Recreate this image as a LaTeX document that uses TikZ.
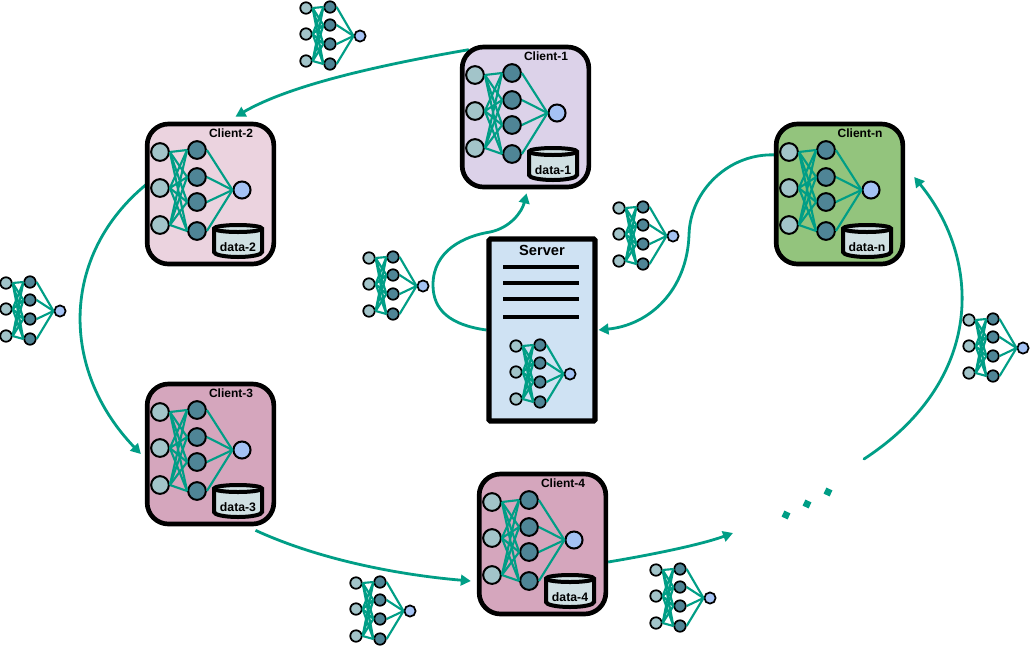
\documentclass[tikz,border=0pt]{standalone}
\usepackage{fontspec}
\setmainfont{Liberation Sans}
\usetikzlibrary{arrows.meta,calc}
\pgfdeclarelayer{background}
\pgfsetlayers{background,main}
\definecolor{flow}{HTML}{009E86}
\definecolor{inN}{HTML}{A2C4C9}
\definecolor{hidN}{HTML}{4F8596}
\definecolor{outN}{HTML}{A4C2F4}
\definecolor{drumfill}{HTML}{D0E0E3}
\definecolor{srvfill}{HTML}{CFE2F3}
\definecolor{cardA}{HTML}{DCD2E9}
\definecolor{cardB}{HTML}{EBD3DF}
\definecolor{cardC}{HTML}{D5A6BD}
\definecolor{cardN}{HTML}{93C47D}
\tikzset{
  every node/.style={font=\bfseries},
  cbox/.style={draw=black,line width=3.5pt,rounded corners=16pt,minimum width=95pt,minimum height=105pt,inner sep=0pt},
  srvbox/.style={draw=black,line width=3.8pt,fill=srvfill,minimum width=79.5pt,minimum height=136.5pt,inner sep=0pt,rounded corners=1pt},
  neuron/.style={circle,draw=black,inner sep=0pt},
  bigI/.style={neuron,fill=inN,line width=1.5pt,minimum size=13.3pt},
  bigH/.style={neuron,fill=hidN,line width=1.5pt,minimum size=13.3pt},
  bigO/.style={neuron,fill=outN,line width=1.5pt,minimum size=12.8pt},
  smallI/.style={neuron,fill=inN,line width=1.3pt,minimum size=8.6pt},
  smallH/.style={neuron,fill=hidN,line width=1.3pt,minimum size=8.6pt},
  smallO/.style={neuron,fill=outN,line width=1.3pt,minimum size=8.4pt},
  netedge/.style={draw=flow,line width=1.6pt},
  flowarrow/.style={draw=flow,line width=2.1pt,-{Triangle[length=7.5pt,width=8pt]}},
  cname/.style={font=\bfseries\fontsize{9}{11}\selectfont,inner sep=0pt},
  dname/.style={font=\bfseries\fontsize{9.2}{11}\selectfont,inner sep=0pt},
  drum/.style={draw=black,line width=3pt,fill=drumfill},
  rack/.style={draw=black,line width=3.4pt},
  dotmark/.style={fill=flow,rotate=-25,minimum size=5pt,inner sep=0pt},
}
% all twelve input-hidden links and the four hidden-output links of one network
\newcommand{\wirenet}[1]{%
  \foreach \a in {1,2,3}{\foreach \b in {1,2,3,4}{\path[netedge] (#1i\a.east) -- (#1h\b.west);}}
  \foreach \b in {1,2,3,4}{\path[netedge] (#1h\b.east) -- (#1o.west);}
}
% small network placed by the centre of its output neuron
\newcommand{\smallnet}[3]{%
  \begin{scope}[shift={(#2,#3)}]
    \node[smallI] (#1i1) at (-54,-28) {};
    \node[smallI] (#1i2) at (-54,-2) {};
    \node[smallI] (#1i3) at (-54,25) {};
    \node[smallH] (#1h1) at (-30,-29) {};
    \node[smallH] (#1h2) at (-30,-11) {};
    \node[smallH] (#1h3) at (-30,8) {};
    \node[smallH] (#1h4) at (-30,28) {};
    \node[smallO] (#1o) at (0,0) {};
    \wirenet{#1}
  \end{scope}%
}
% client card with its network and data store, offset from the first card's place
\newcommand{\client}[6]{%
  \begin{scope}[shift={(#2,#3)}]
    \node[cbox,fill=#6] (#1) at (525.5,117) {};
    \node[cname] (#1name) at (546,56) {#4};
    \node[bigI] (#1i1) at (475,75) {};
    \node[bigI] (#1i2) at (475,111) {};
    \node[bigI] (#1i3) at (475,148) {};
    \node[bigH] (#1h1) at (512,73) {};
    \node[bigH] (#1h2) at (512,100) {};
    \node[bigH] (#1h3) at (512,125) {};
    \node[bigH] (#1h4) at (512,154) {};
    \node[bigO] (#1o) at (557,113) {};
    \wirenet{#1}
    \path[drum] (529,151.5) arc[start angle=180,end angle=360,x radius=24,y radius=3.5]
      -- (577,175) arc[start angle=0,end angle=-180,x radius=24,y radius=-5] -- cycle;
    \path[draw=black,line width=3pt] (529,151.5) arc[start angle=180,end angle=0,x radius=24,y radius=3.5];
    \node[dname] (#1data) at (553,170) {#5};
  \end{scope}%
}
\begin{document}
\begin{tikzpicture}[x=0.75pt,y=-0.75pt]
\path[use as bounding box] (0,0) rectangle (1030,647);
\begin{pgfonlayer}{background}
\fill[white] (0,0) rectangle (1030,647);
\end{pgfonlayer}

\client{ca}{0}{0}{Client-1}{data-1}{cardA}
\client{cb}{-315}{77}{Client-2}{data-2}{cardB}
\client{cc}{-315}{337}{Client-3}{data-3}{cardC}
\client{cd}{17}{427}{Client-4}{data-4}{cardC}
\client{cn}{314}{77}{Client-n}{data-n}{cardN}

% server
\node[srvbox] (srv) at (542,330) {};
\node[font=\bfseries\fontsize{11}{13}\selectfont,inner sep=0pt] (srvname) at (542,250) {Server};
\foreach \yy in {-63,-47,-31,-13}{\path[rack] ([shift={(-39,\yy)}]srv.center) -- ([shift={(37,\yy)}]srv.center);}
\smallnet{sv}{570}{374}

% travelling model copies
\smallnet{ma}{360}{36}
\smallnet{mb}{60}{311}
\smallnet{mc}{410}{611}
\smallnet{md}{710}{598}
\smallnet{me}{1023}{348}
\smallnet{mf}{423}{286}
\smallnet{mg}{673}{236}

% ellipsis between the last clients
\node[dotmark] (dota) at (786,515) {};
\node[dotmark] (dotb) at (807,504) {};
\node[dotmark] (dotc) at (828,492) {};
\coordinate (gapin) at (733,533);
\coordinate (gapout) at (864,459);

\begin{pgfonlayer}{background}
\path[flowarrow] ([shift={(9,5)}]ca.north west) .. controls (380,65) and (290,85) .. ([shift={(25,-5)}]cb.north);
\path[flowarrow] ([shift={(2,-10)}]cb.west) .. controls (60,255) and (60,370) .. ([shift={(-4,0)}]cc.west);
\path[flowarrow] ([shift={(45,4)}]cc.south) .. controls (320,560) and (400,575) .. ([shift={(-6,37)}]cd.west);
\path[flowarrow] ([shift={(0,18)}]cd.east) .. controls (650,555) and (700,545) .. (gapin);
\path[flowarrow,line cap=round] (gapout) .. controls (985,380) and (982,260) .. ([shift={(9,-17)}]cn.east);
\path[flowarrow] (srv.west) .. controls (450,325) and (433,310) .. (433,285)
  .. controls (433,250) and (465,236) .. (490,232)
  .. controls (510,228) and (522,212) .. ([shift={(1,4)}]ca.south);
\path[flowarrow] ([shift={(3,-39)}]cn.west) .. controls (730,152) and (690,190) .. (689,235)
  .. controls (687,290) and (650,325) .. ([shift={(1,0)}]srv.east);
\end{pgfonlayer}
\end{tikzpicture}
\end{document}
